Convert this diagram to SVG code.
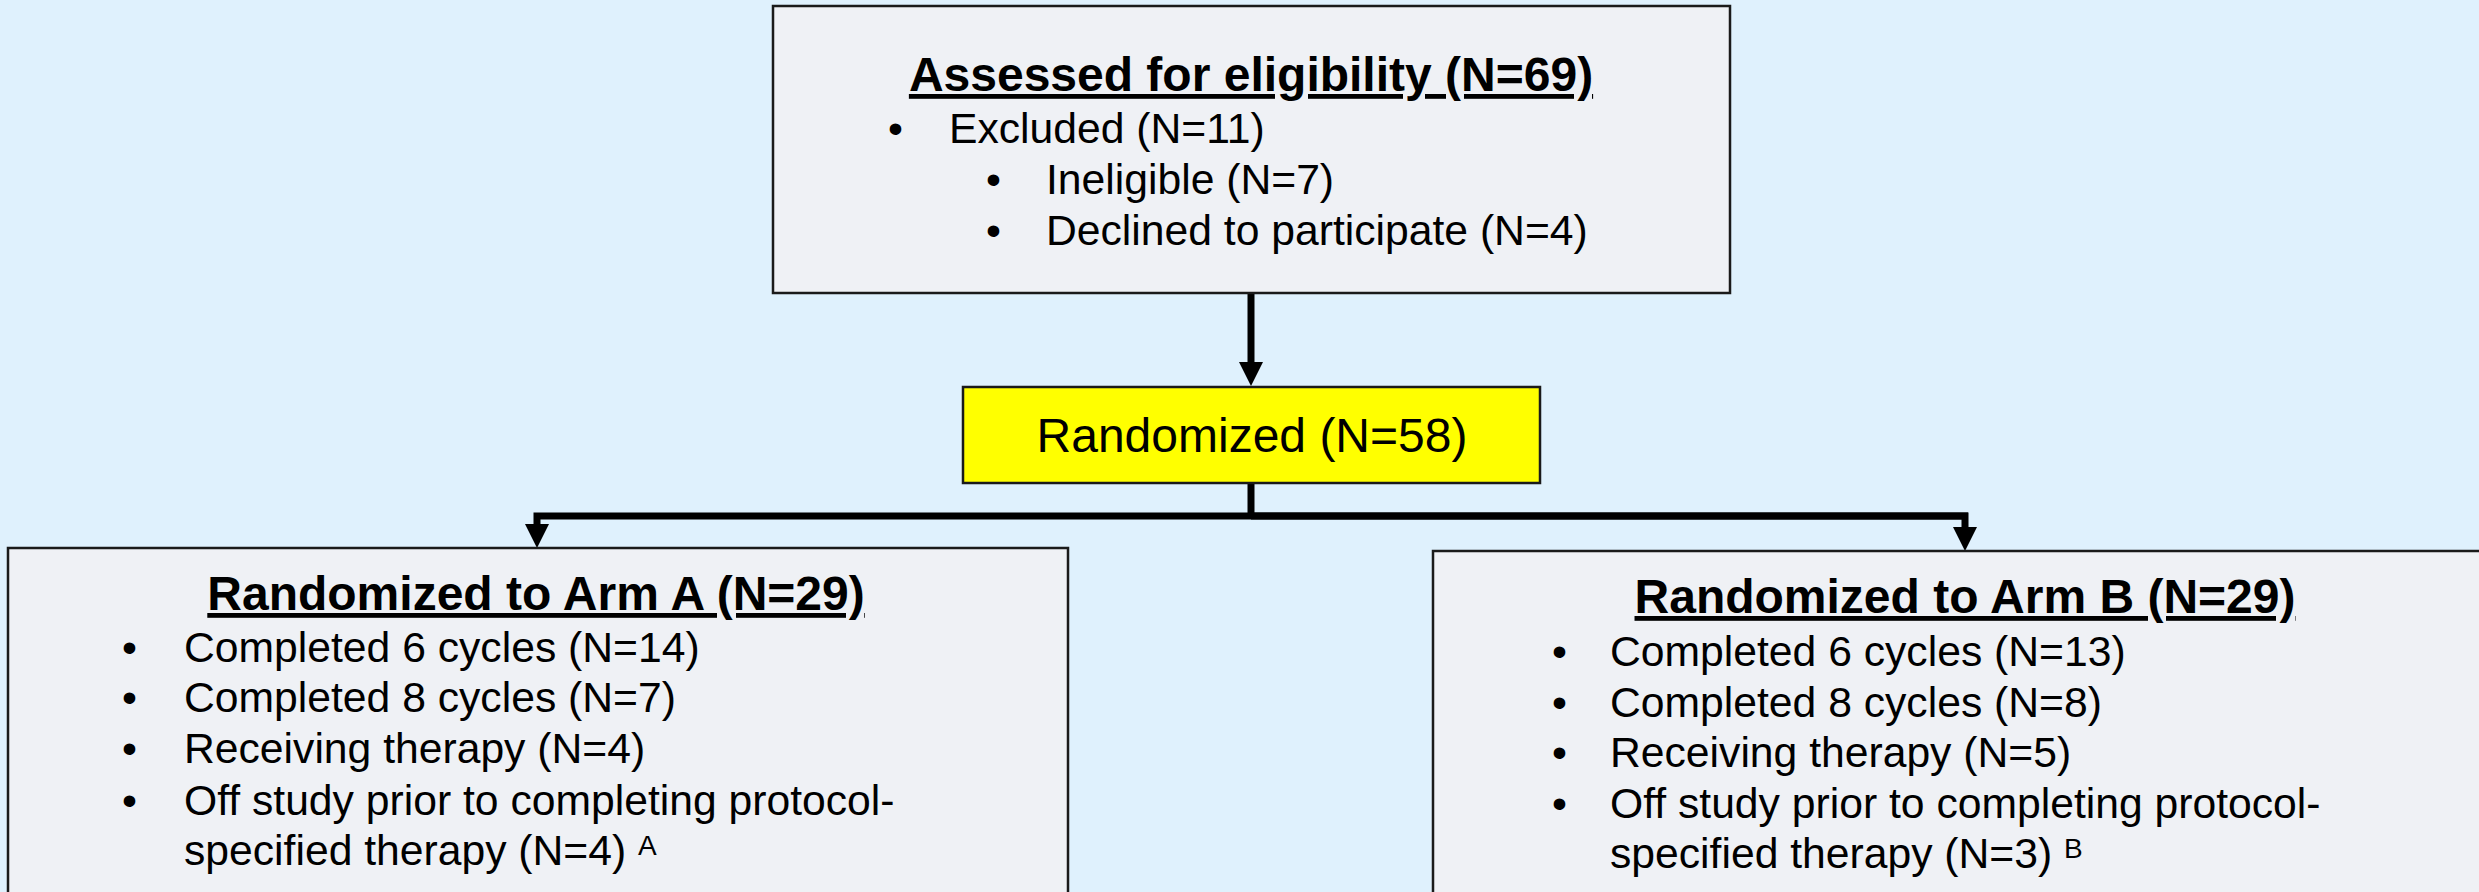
<svg xmlns="http://www.w3.org/2000/svg" width="2479" height="892" viewBox="0 0 2479 892">
<style>
.bg{fill:#DFF1FD}
.box{fill:#EFF1F5;stroke:#1a1a1a;stroke-width:2.5}
.ybox{fill:#FFFF00;stroke:#1a1a1a;stroke-width:2.5}
.t{font-family:"Liberation Sans",Arial,sans-serif;fill:#000}
.title{font-size:48px;font-weight:bold;text-decoration:underline;text-anchor:middle}
.body{font-size:42.67px}
.big{font-size:48px;text-anchor:middle}
.sup{font-size:28px}
.conn{fill:none;stroke:#000;stroke-width:7;stroke-linejoin:miter}
</style>
<defs>
<marker id="ah" markerUnits="userSpaceOnUse" markerWidth="24" markerHeight="24" viewBox="0 0 24 24" refX="0" refY="12" orient="auto">
<path d="M0,0 L24,12 L0,24 z" fill="#000"/>
</marker>
</defs>
<rect class="bg" x="0" y="0" width="2479" height="892"/>

<g id="connectors">
<path class="conn" d="M1251,293 V362" marker-end="url(#ah)"/>
<path class="conn" d="M1251,483 V516"/>
<path class="conn" d="M1968,516 H537 V524" marker-end="url(#ah)"/>
<path class="conn" d="M1251,516 H1965 V527" marker-end="url(#ah)"/>
</g>

<g id="assessed">
<rect class="box" x="773" y="6" width="957" height="287"/>
<text class="t title" x="1251" y="91">Assessed for eligibility (N=69)</text>
<text class="t body" x="888" y="143">•</text>
<text class="t body" x="949" y="143">Excluded (N=11)</text>
<text class="t body" x="986" y="194">•</text>
<text class="t body" x="1046" y="194">Ineligible (N=7)</text>
<text class="t body" x="986" y="245">•</text>
<text class="t body" x="1046" y="245">Declined to participate (N=4)</text>
</g>

<g id="randomized">
<rect class="ybox" x="963" y="387" width="577" height="96"/>
<text class="t big" x="1252" y="452">Randomized (N=58)</text>
</g>

<g id="armA">
<rect class="box" x="8" y="548" width="1060" height="360"/>
<text class="t title" x="536" y="610">Randomized to Arm A (N=29)</text>
<text class="t body" x="122" y="662">•</text>
<text class="t body" x="184" y="662">Completed 6 cycles (N=14)</text>
<text class="t body" x="122" y="712">•</text>
<text class="t body" x="184" y="712">Completed 8 cycles (N=7)</text>
<text class="t body" x="122" y="763">•</text>
<text class="t body" x="184" y="763">Receiving therapy (N=4)</text>
<text class="t body" x="122" y="815">•</text>
<text class="t body" x="184" y="815">Off study prior to completing protocol-</text>
<text class="t body" x="184" y="865">specified therapy (N=4) <tspan class="sup" dy="-10">A</tspan></text>
</g>

<g id="armB">
<rect class="box" x="1433" y="551" width="1060" height="360"/>
<text class="t title" x="1965" y="613">Randomized to Arm B (N=29)</text>
<text class="t body" x="1552" y="666">•</text>
<text class="t body" x="1610" y="666">Completed 6 cycles (N=13)</text>
<text class="t body" x="1552" y="717">•</text>
<text class="t body" x="1610" y="717">Completed 8 cycles (N=8)</text>
<text class="t body" x="1552" y="767">•</text>
<text class="t body" x="1610" y="767">Receiving therapy (N=5)</text>
<text class="t body" x="1552" y="818">•</text>
<text class="t body" x="1610" y="818">Off study prior to completing protocol-</text>
<text class="t body" x="1610" y="868">specified therapy (N=3) <tspan class="sup" dy="-10">B</tspan></text>
</g>
</svg>
